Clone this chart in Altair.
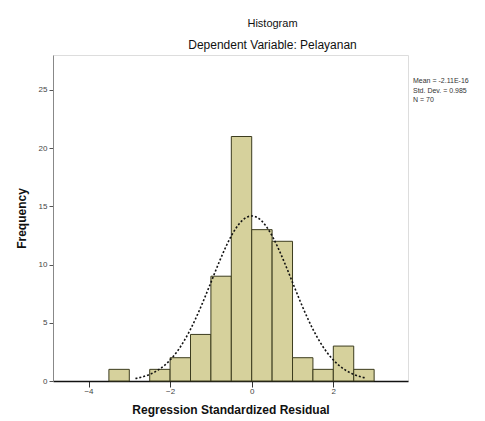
import altair as alt
import pandas as pd

# ---- data ----
bin_start = [-3.5, -3.0, -2.5, -2.0, -1.5, -1.0, -0.5, 0.0, 0.5, 1.0, 1.5, 2.0, 2.5]
counts = [1, 0, 1, 2, 4, 9, 21, 13, 12, 2, 1, 3, 1]
bin_width = 0.5
mean_value = 0.0
std_dev = 0.985
n_obs = 70
x_ticks = [-4, -2, 0, 2]
y_ticks = [0, 5, 10, 15, 20, 25]
stats_lines = ["Mean = -2.11E-16", "Std. Dev. = 0.985", "N = 70"]

FONT = "Liberation Sans"

bars_df = pd.DataFrame({
    "start": bin_start,
    "end": [b + bin_width for b in bin_start],
    "count": counts,
})
bars_df = bars_df[bars_df["count"] > 0]

xscale = alt.Scale(domain=[-4.87, 3.83], nice=False, zero=False)
yscale = alt.Scale(domain=[0, 28], nice=False)

bars = alt.Chart(bars_df).mark_rect(
    fill="#d6d19c", stroke="#3c3c1e", strokeWidth=1
).encode(
    x=alt.X("start:Q", scale=xscale,
            axis=alt.Axis(values=x_ticks, title="Regression Standardized Residual",
                          grid=False, tickSize=6, tickColor="#333", domainColor="#111",
                          domainWidth=1.5, labelFont=FONT, labelFontSize=8, labelColor="#444",
                          labelPadding=0, titleFont=FONT, titleFontSize=12, titleFontWeight="bold",
                          titleColor="#111", titlePadding=9)),
    x2="end:Q",
    y=alt.Y("count:Q", scale=yscale,
            axis=alt.Axis(values=y_ticks, title="Frequency", grid=False, tickSize=4,
                          tickColor="#555", domainColor="#888", labelFont=FONT,
                          labelFontSize=8, labelColor="#444", labelPadding=2,
                          titleFont=FONT, titleFontSize=12, titleFontWeight="bold",
                          titleColor="#111", titlePadding=10)),
    y2=alt.datum(0),
)

curve = alt.Chart(alt.sequence(start=-2.85, stop=2.81, step=0.02, as_="z")).transform_calculate(
    freq=f"{n_obs}*{bin_width}/({std_dev}*sqrt(2*PI))*exp(-0.5*pow((datum.z-{mean_value})/{std_dev},2))"
).mark_line(color="#111", strokeDash=[2, 2], strokeWidth=1.6).encode(
    x=alt.X("z:Q", scale=xscale),
    y=alt.Y("freq:Q", scale=yscale),
)

stats = alt.Chart(pd.DataFrame({"t": ["\n".join(stats_lines)]})).mark_text(
    align="left", baseline="top", font=FONT, fontSize=7, color="#333",
    lineBreak="\n", lineHeight=9.5
).encode(
    x=alt.value(360),
    y=alt.value(22),
    text="t:N",
)

chart = alt.layer(bars, curve, stats).properties(
    width=355,
    height=326,
    title=alt.TitleParams(
        "Histogram", subtitle="Dependent Variable: Pelayanan", anchor="middle", dx=42,
        font=FONT, fontSize=11, fontWeight="normal", color="#111",
        subtitleFont=FONT, subtitleFontSize=12, subtitleColor="#111",
        subtitlePadding=11, offset=4,
    ),
    autosize=alt.AutoSizeParams(type="none"),
    padding={"left": 45, "top": 47, "right": 69, "bottom": 40},
).configure_view(
    fill="#f1f1f1", stroke="#777", strokeWidth=1
).configure(background="white")

chart.save("out.html", embed_options={"renderer": "svg", "actions": False})
